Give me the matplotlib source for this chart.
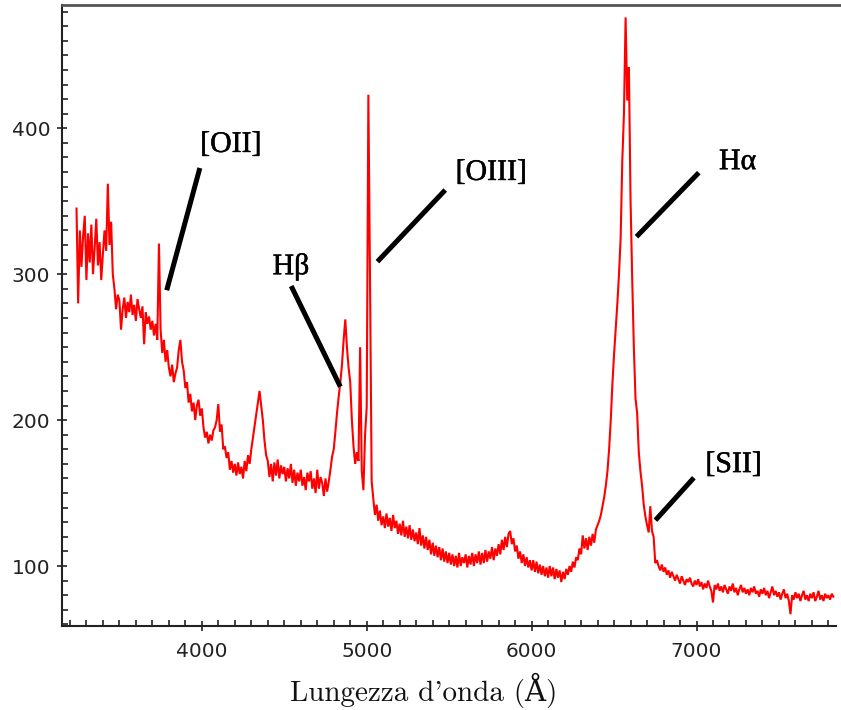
import numpy as np
import matplotlib
matplotlib.use("Agg")
import matplotlib.pyplot as plt
from matplotlib.lines import Line2D
from matplotlib.ticker import MultipleLocator
import matplotlib.patheffects as pe

# ---------------- data ----------------
wl_start, wl_step = 3240, 10
flux_3200 = [345, 280, 330, 305, 326, 340]
flux_3300_3900 = [
    296, 328, 308, 334, 300, 318, 338, 306, 322, 296,
    314, 330, 316, 362, 320, 336, 300, 290, 276, 286,
    282, 262, 276, 284, 270, 281, 274, 286, 272, 279,
    268, 283, 276, 270, 278, 252, 274, 266, 271, 262,
    268, 258, 266, 255, 321, 262, 246, 255, 240, 248,
    236, 230, 238, 226, 232, 236, 248, 255, 240, 234,
    222, 226, 212, 218, 206, 212, 200, 210, 214, 203,
]
flux_4000_4900 = [
    208, 195, 188, 192, 184, 190, 186, 193, 195, 200,
    211, 192, 197, 180, 182, 174, 178, 166, 172, 164,
    170, 162, 171, 163, 168, 160, 172, 165, 176, 170,
    180, 188, 196, 204, 212, 220, 210, 200, 186, 176,
    172, 161, 170, 158, 171, 162, 173, 160, 169, 163,
    168, 158, 167, 160, 170, 157, 166, 155, 164, 158,
    166, 155, 161, 152, 164, 158, 165, 153, 160, 150,
    166, 153, 161, 157, 148, 160, 151, 158, 166, 175,
    180, 192, 205, 216, 226, 238, 255, 269, 250, 236,
    226, 200, 182, 170, 178, 172, 250, 165, 152, 190,
]
flux_5000_5900 = [
    209, 423, 297, 158, 146, 135, 142, 131, 138, 128,
    134, 126, 136, 127, 133, 124, 135, 126, 131, 122,
    129, 121, 131, 120, 127, 119, 128, 118, 125, 117,
    123, 115, 126, 114, 121, 112, 120, 111, 118, 108,
    116, 107, 114, 106, 113, 104, 112, 103, 110, 102,
    109, 101, 108, 100, 107, 99, 109, 100, 106, 102,
    108, 99, 107, 101, 109, 100, 108, 102, 110, 101,
    109, 102, 111, 103, 110, 105, 113, 104, 112, 107,
    115, 108, 118, 111, 120, 113, 122, 124, 115, 119,
    110, 114, 105, 110, 102, 108, 100, 106, 99, 104,
]
flux_6000_6900 = [
    97, 104, 96, 103, 95, 101, 94, 100, 93, 99,
    92, 100, 93, 99, 91, 98, 92, 97, 89, 96,
    91, 98, 94, 100, 96, 103, 99, 106, 104, 112,
    108, 121, 112, 119, 111, 120, 114, 122, 116, 125,
    128, 131, 135, 141, 147, 155, 165, 180, 200, 225,
    245, 262, 280, 300, 325, 378, 410, 476, 419, 442,
    351, 297, 250, 215, 205, 178, 165, 155, 142, 134,
    128, 123, 141, 124, 120, 102, 104, 100, 97, 101,
    96, 99, 94, 97, 92, 96, 93, 90, 94, 91,
    88, 93, 90, 87, 91, 89, 92, 88, 86, 90,
]
flux_7000_7830 = [
    87, 91, 86, 89, 84, 88, 85, 90, 86, 83,
    75, 87, 84, 88, 83, 86, 82, 87, 84, 81,
    86, 83, 88, 82, 85, 80, 84, 87, 82, 85,
    81, 84, 80, 85, 82, 86, 81, 83, 79, 84,
    81, 85, 80, 83, 78, 82, 86, 80, 83, 79,
    82, 77, 81, 84, 78, 81, 76, 67, 80, 77,
    82, 78, 81, 76, 80, 83, 77, 80, 76, 81,
    78, 82, 76, 79, 83, 77, 80, 76, 81, 78,
    80, 77, 81, 79,
]
flux = np.array(flux_3200 + flux_3300_3900 + flux_4000_4900 +
                flux_5000_5900 + flux_6000_6900 + flux_7000_7830, dtype=float)
wavelength = wl_start + wl_step * np.arange(len(flux))

x_ticks = [4000, 5000, 6000, 7000]
y_ticks = [100, 200, 300, 400]
x_label = "Lungezza d'onda (Å)"

# annotation labels: (text, text x, text baseline y, line start, line end)
annotations = [
    ("[OII]",  4176, 383.8, (3988, 372.8), (3787, 289.0)),
    ("Hβ",     4540, 300.0, (4542, 291.9), (4840, 222.9)),
    ("[OIII]", 5755, 364.6, (5476, 357.7), (5065, 308.6)),
    ("Hα",     7249, 372.0, (7014, 369.6), (6636, 325.7)),
    ("[SII]",  7225, 164.4, (6984, 160.5), (6751, 131.4)),
]

# ---------------- figure ----------------
W, H = 841, 710
fig = plt.figure(figsize=(W / 100, H / 100), dpi=100)
ax_l, ax_r, ax_t, ax_b = 62, 836, 5, 626
ax = fig.add_axes([ax_l / W, 1 - ax_b / H, (ax_r - ax_l) / W, (ax_b - ax_t) / H])

ax.plot(wavelength, flux, color="#ff0000", lw=1.5, solid_joinstyle="miter")

ax.set_xlim(3152, 7846)
ax.set_ylim(58.9, 484.5)

ax.spines["right"].set_visible(False)
ax.spines["top"].set_visible(False)
for sp in ("left", "bottom"):
    ax.spines[sp].set_linewidth(1.5)
    ax.spines[sp].set_color("#222222")
# grey top rule extending to the right edge
fig.add_artist(Line2D([ax_l / W, 1.0], [1 - ax_t / H, 1 - ax_t / H],
                      color="#555555", lw=2.0, transform=fig.transFigure))

ax.set_xticks(x_ticks)
ax.set_yticks(y_ticks)
ax.xaxis.set_minor_locator(MultipleLocator(100))
ax.yaxis.set_minor_locator(MultipleLocator(10))
ax.tick_params(which="major", direction="inout", length=7, width=1.2,
               colors="#222222", labelsize=14.5, pad=5)
ax.tick_params(which="minor", direction="in", length=4, width=1.2, colors="#222222")
ax.tick_params(axis="x", which="major", pad=8)
ax.tick_params(top=False, right=False, which="both")

fig.text(424 / W, 1 - 690 / H, x_label, ha="center", va="center",
         family=["cmr10", "DejaVu Serif"], fontsize=21, color="#111111")

for txt, tx, ty, (x0, y0), (x1, y1) in annotations:
    ax.plot([x0, x1], [y0, y1], color="black", lw=3.6, solid_capstyle="butt")
    ax.text(tx, ty, txt, ha="center", va="baseline", family=["Liberation Serif", "DejaVu Serif"],
            fontsize=21.5, color="black",
            path_effects=[pe.withStroke(linewidth=0.35, foreground="black")])

fig.savefig("out.png", dpi=100)
